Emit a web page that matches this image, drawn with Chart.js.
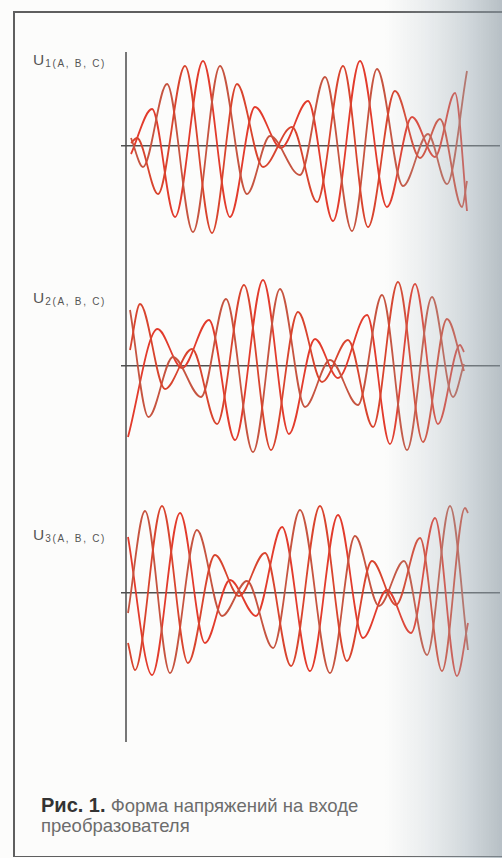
<!DOCTYPE html>
<html>
<head>
<meta charset="utf-8">
<script src="https://cdn.jsdelivr.net/npm/chart.js@4.4.1/dist/chart.umd.min.js"></script>
<style>
html,body{margin:0;padding:0;background:#fcfcfb;}
#page{position:relative;width:502px;height:858px;overflow:hidden;background:#fcfcfb;font-family:"Liberation Sans",Arial,sans-serif;}
.frame{position:absolute;background:#5f5f5f;}
canvas{position:absolute;}
.lbl{position:absolute;left:33px;color:#555;white-space:nowrap;line-height:1;}
.lbl .u{font-size:15.5px;}
.lbl .s{font-size:10px;letter-spacing:1.7px;position:relative;top:2px;margin-left:1px;}
.cap{position:absolute;left:41px;font-size:18.5px;line-height:1;color:#6c6c6c;white-space:nowrap;}
.cap b{color:#333;font-size:20px;}
#shade{position:absolute;left:385px;top:0;width:117px;height:858px;pointer-events:none;
background:linear-gradient(to right,rgba(170,184,193,0) 0px,rgba(170,184,193,0.2) 40px,rgba(155,170,180,0.42) 80px,rgba(140,154,164,0.62) 117px);}
</style>
</head>
<body>
<div id="page">
  <div class="frame" style="left:13px;top:11px;width:489px;height:1.6px;"></div>
  <div class="frame" style="left:13px;top:11px;width:1.6px;height:846px;"></div>
  <div class="frame" style="left:13px;top:855.5px;width:489px;height:1.5px;"></div>
  <div class="frame" style="left:125.2px;top:52px;width:1.6px;height:690px;background:#777;"></div>

  <div class="lbl" style="top:52px;"><span class="u">U</span><span class="s">1(A, B, C)</span></div>
  <div class="lbl" style="top:290px;"><span class="u">U</span><span class="s">2(A, B, C)</span></div>
  <div class="lbl" style="top:527px;"><span class="u">U</span><span class="s">3(A, B, C)</span></div>

  <canvas id="c1" width="379" height="220" style="left:121px;top:35.5px;"></canvas>
  <canvas id="c2" width="379" height="220" style="left:121px;top:255.7px;"></canvas>
  <canvas id="c3" width="379" height="220" style="left:121px;top:483.3px;"></canvas>

  <div class="cap" style="top:795px;"><b>Рис. 1.</b> Форма напряжений на входе</div>
  <div class="cap" style="top:817px;">преобразователя</div>

  <div id="shade"></div>
</div>
<script>
// Time positions (t) and extremum voltages (u), per phase A/B/C.
// Panel 1: U1(A,B,C)
const t1A = [5, 11, 32, 59, 86, 111, 137, 166, 191, 217, 242, 269, 294, 314, 336, 341];
const u1A = [3, 8, -48, 80, -87, 62, -21, 19, -56, 80, -81, 55, -12, 27, -61, -35];
const t1B = [5, 17, 41, 67, 94, 121, 144, 174, 199, 226, 251, 277, 302, 321, 341];
const u1B = [8, -21, 62, -86, 80, -48, 10, -29, 69, -85, 77, -40, 12, -38, 75];
const t1C = [5, 26, 49, 77, 104, 129, 155, 182, 207, 234, 261, 286, 309, 329, 341];
const u1C = [-8, 37, -71, 85, -71, 39, -2, 45, -75, 85, -61, 29, -11, 53, -65];

// Panel 2: U2(A,B,C)
const t2A = [4, 14, 39, 66, 91, 118, 145, 172, 196, 222, 247, 272, 297, 321, 338];
const u2A = [16, 62, -23, 17, -58, 81, -84, 54, -16, 26, -61, 84, -76, 47, -5];
const t2B = [4, 22.5, 47, 75, 100, 127, 154, 179, 204, 232, 256, 281, 306, 327, 338];
const u2B = [56, -51, 9, -31, 67, -86, 77, -41, 6, -39, 71, -84, 69, -31, 2];
const t2C = [2, 31.5, 56, 83, 109, 137, 163, 189, 212, 241, 264, 289, 312, 334, 338];
const u2C = [-71, 37, -2, 46, -74, 86, -68, 27, -12, 51, -78, 82, -58, 21, 14];

// Panel 3: U3(A,B,C)
const t3A = [2, 9, 36, 62, 89, 113, 139, 165, 194, 221, 246, 270, 294, 316, 339, 342];
const u3A = [-50, -77, 87, -70, 38, -3, 40, -73, 87, -68, 32, -12, 55, -78, 85, 80];
const t3B = [2, 19, 44, 71, 96, 121, 147, 174, 204, 229, 253, 278, 301, 324, 342];
const u3B = [-20, 82, -80, 63, -23, 12, -55, 83, -80, 57, -13, 32, -62, 87, -57];
const t3C = [2, 26, 54, 79, 104, 130, 156, 184, 212, 237, 261, 285, 309, 331, 342];
const u3C = [56, -82, 80, -50, 13, -23, 66, -78, 78, -45, 3, -40, 75, -83, -30];

const tRange = [-5, 374];
const uRange = [-110, 110];
const phaseColors = ['#d8442e', '#c65440', '#e23b2c'];

function pts(t, u) { return t.map((v, i) => ({x: v, y: u[i]})); }

function makeChart(id, series) {
  new Chart(document.getElementById(id), {
    type: 'line',
    data: {
      datasets: series.map((s, i) => ({
        data: pts(s[0], s[1]),
        borderColor: phaseColors[i],
        borderWidth: 1.8,
        pointRadius: 0,
        fill: false,
        cubicInterpolationMode: 'monotone'
      }))
    },
    options: {
      responsive: false,
      animation: false,
      events: [],
      layout: {padding: 0},
      plugins: {legend: {display: false}, tooltip: {enabled: false}},
      scales: {
        x: {type: 'linear', min: tRange[0], max: tRange[1], display: false},
        y: {
          type: 'linear', min: uRange[0], max: uRange[1],
          display: true,
          border: {display: false},
          ticks: {display: false, stepSize: 110},
          grid: {
            drawTicks: false,
            lineWidth: 1.4,
            color: (ctx) => (ctx.tick && ctx.tick.value === 0) ? '#505050' : 'rgba(0,0,0,0)'
          }
        }
      }
    }
  });
}

makeChart('c1', [[t1A, u1A], [t1B, u1B], [t1C, u1C]]);
makeChart('c2', [[t2A, u2A], [t2B, u2B], [t2C, u2C]]);
makeChart('c3', [[t3A, u3A], [t3B, u3B], [t3C, u3C]]);
</script>
</body>
</html>
